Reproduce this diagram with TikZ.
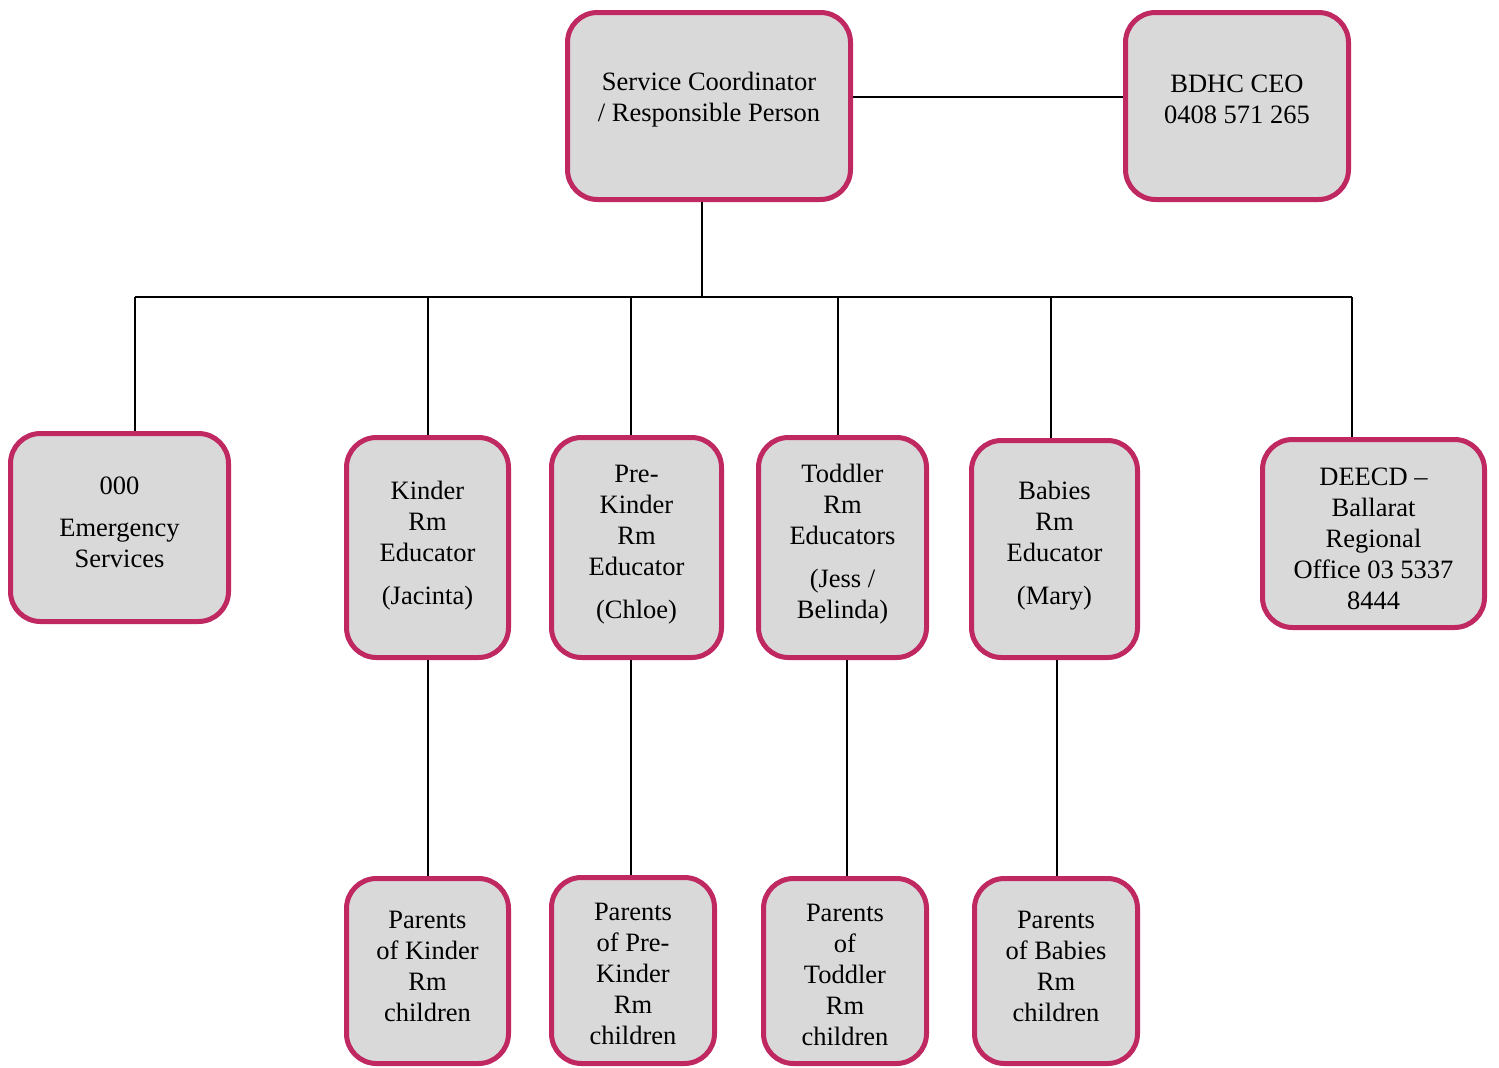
\documentclass[tikz,border=0pt]{standalone}
\usepackage{fontspec}
\setmainfont{Liberation Serif}
\definecolor{boxborder}{RGB}{192,40,98}
\definecolor{boxfill}{RGB}{217,217,217}
\begin{document}
\begin{tikzpicture}[x=1pt,y=-1pt,
  orgbox/.style={draw=boxborder,fill=boxfill,line width=5pt,rounded corners=30pt,inner sep=0pt},
  boxtext/.style={align=center,inner sep=0pt,font=\fontsize{26.5}{31}\selectfont},
  link/.style={draw=black,line width=2pt}]
\useasboundingbox (0,0) rectangle (1499,1068);
% top row
\node[orgbox,minimum width=283pt,minimum height=187pt] (sc) at (709,106) {};
\node[boxtext] (sct) at ([yshift=6.5pt]sc.center) {Service Coordinator\\/ Responsible Person};
\node[orgbox,minimum width=223pt,minimum height=187pt] (ceo) at (1237,106) {};
\node[boxtext] (ceot) at ([yshift=6.5pt]ceo.center) {BDHC CEO\\0408 571 265};
% middle row
\node[orgbox,minimum width=218pt,minimum height=188pt] (em) at (119.5,527.5) {};
\node[boxtext] (emt) at ([yshift=5pt]em.center) {000\\[11pt]Emergency\\Services};
\node[orgbox,minimum width=162pt,minimum height=220pt] (kin) at (427.5,547.5) {};
\node[boxtext] (kint) at ([yshift=2pt]kin.center) {Kinder\\Rm\\Educator\\[12pt](Jacinta)};
\node[orgbox,minimum width=170pt,minimum height=220pt] (pre) at (636.5,547.5) {};
\node[boxtext] (pret) at ([yshift=3pt]pre.center) {Pre-\\Kinder\\Rm\\Educator\\[12pt](Chloe)};
\node[orgbox,minimum width=168pt,minimum height=220pt] (tod) at (842.5,547.5) {};
\node[boxtext] (todt) at ([yshift=3pt]tod.center) {Toddler\\Rm\\Educators\\[12pt](Jess /\\Belinda)};
\node[orgbox,minimum width=166pt,minimum height=217pt] (bab) at (1054.5,549) {};
\node[boxtext] (babt) at ([yshift=3pt]bab.center) {Babies\\Rm\\Educator\\[12pt](Mary)};
\node[orgbox,minimum width=222pt,minimum height=188pt] (dee) at (1373.5,533.5) {};
\node[boxtext] (deet) at ([yshift=-5pt]dee.center) {DEECD --\\Ballarat\\Regional\\Office 03 5337\\8444};
% bottom row
\node[orgbox,minimum width=162pt,minimum height=185pt] (pk) at (427.5,971) {};
\node[boxtext] (pkt) at ([yshift=5pt]pk.center) {Parents\\of Kinder\\Rm\\children};
\node[orgbox,minimum width=163pt,minimum height=186pt] (ppk) at (633,970.5) {};
\node[boxtext] (ppkt) at ([yshift=-3pt]ppk.center) {Parents\\of Pre-\\Kinder\\Rm\\children};
\node[orgbox,minimum width=163pt,minimum height=185pt] (ptod) at (845,971) {};
\node[boxtext] (ptodt) at ([yshift=-4pt]ptod.center) {Parents\\of\\Toddler\\Rm\\children};
\node[orgbox,minimum width=163pt,minimum height=185pt] (pbab) at (1056,971) {};
\node[boxtext] (pbabt) at ([yshift=5pt]pbab.center) {Parents\\of Babies\\Rm\\children};
% bus
\coordinate (busL) at (135,297);
\coordinate (busR) at (1352,297);
\draw[link] ([yshift=9pt]sc.east) -- ([yshift=9pt]sc.east -| ceo.west);
\draw[link] ([xshift=-7pt]sc.south) -- ([xshift=-7pt]sc.south |- busL);
\draw[link] (busL) -- (busR);
\draw[link] (busL) -- (busL |- em.north);
\draw[link] (kin.north) -- (kin.north |- busL);
\draw[link] ([xshift=-5.5pt]pre.north) -- ([xshift=-5.5pt]pre.north |- busL);
\draw[link] ([xshift=-4.5pt]tod.north) -- ([xshift=-4.5pt]tod.north |- busL);
\draw[link] ([xshift=-3.5pt]bab.north) -- ([xshift=-3.5pt]bab.north |- busL);
\draw[link] (busR) -- (busR |- dee.north);
% to parents
\draw[link] (kin.south) -- (kin.south |- pk.north);
\draw[link] ([xshift=-5.5pt]pre.south) -- ([xshift=-5.5pt]pre.south |- ppk.north);
\draw[link] ([xshift=4.5pt]tod.south) -- ([xshift=4.5pt]tod.south |- ptod.north);
\draw[link] ([xshift=2.5pt]bab.south) -- ([xshift=2.5pt]bab.south |- pbab.north);
\end{tikzpicture}
\end{document}
